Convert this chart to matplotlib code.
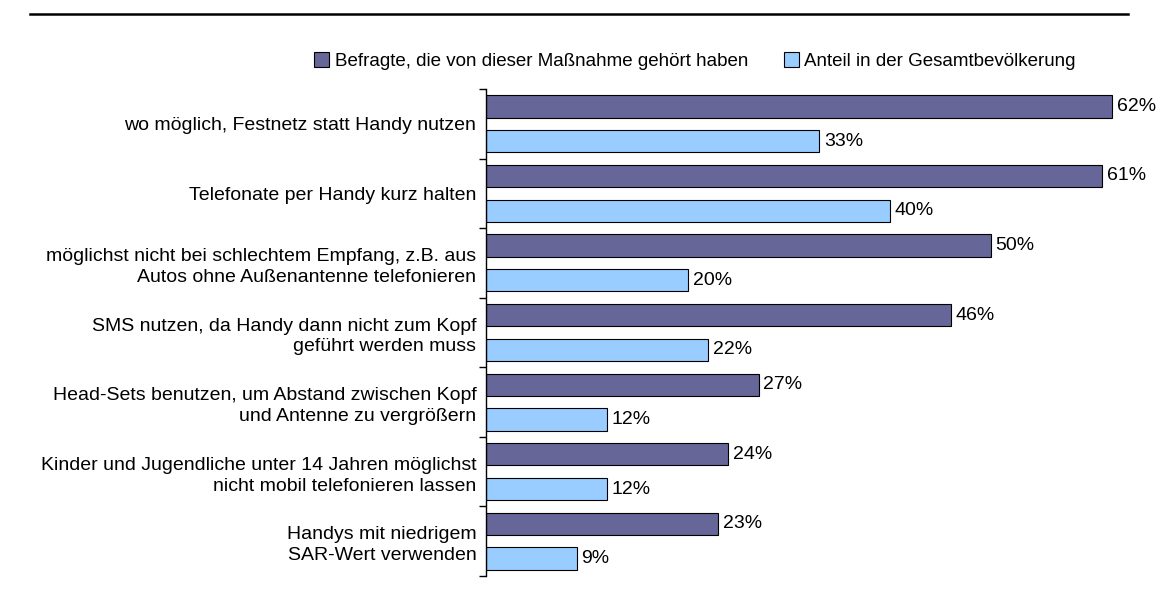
import numpy as np
import matplotlib.pyplot as plt
from matplotlib.lines import Line2D

plt.rcParams['font.family'] = ['Liberation Sans', 'DejaVu Sans']

# Kategorien und Werte (in %)
categories = ['wo möglich, Festnetz statt Handy nutzen',
              'Telefonate per Handy kurz halten',
              'möglichst nicht bei schlechtem Empfang, z.B. aus\nAutos ohne Außenantenne telefonieren',
              'SMS nutzen, da Handy dann nicht zum Kopf\ngeführt werden muss',
              'Head-Sets benutzen, um Abstand zwischen Kopf\nund Antenne zu vergrößern',
              'Kinder und Jugendliche unter 14 Jahren möglichst\nnicht mobil telefonieren lassen',
              'Handys mit niedrigem\nSAR-Wert verwenden']
heard = [62, 61, 50, 46, 27, 24, 23]
total = [33, 40, 20, 22, 12, 12, 9]
series_names = ['Befragte, die von dieser Maßnahme gehört haben',
                'Anteil in der Gesamtbevölkerung']

fig = plt.figure(figsize=(11.59, 6.16), dpi=100)
ax = fig.add_axes([486/1159, 1-576/616, (1140-486)/1159, (576-89)/616])

y = np.arange(len(categories))
h = 0.32
b1 = ax.barh(y - 0.25, heard, height=h, color='#666699', edgecolor='black', linewidth=0.8, label=series_names[0])
b2 = ax.barh(y + 0.25, total, height=h, color='#99CCFF', edgecolor='black', linewidth=0.8, label=series_names[1])

for bars, vals in [(b1, heard), (b2, total)]:
    for bar, v in zip(bars, vals):
        ax.text(bar.get_width() + 0.45, bar.get_y() + bar.get_height()/2, f'{v}%',
                va='center', ha='left', fontsize=14, clip_on=False)

ax.set_xlim(0, 64.75)
ax.set_ylim(len(categories) - 0.5, -0.5)

# Achse: nur linke Linie, Ticks an den Kategoriegrenzen
for s in ['top', 'right', 'bottom']:
    ax.spines[s].set_visible(False)
ax.spines['left'].set_linewidth(1.0)
ax.set_xticks([])
ax.set_yticks(np.arange(len(categories) + 1) - 0.5)
ax.set_yticklabels([])
ax.tick_params(axis='y', length=5, width=1.0, direction='out')
ax.set_yticks(y, minor=True)
ax.set_yticklabels(categories, minor=True, fontsize=14, ha='right', linespacing=1.3)
ax.tick_params(axis='y', which='minor', length=0, pad=7)

fig.legend(handles=[b1, b2], loc='center', bbox_to_anchor=(0.5997, 1-61/616), ncol=2,
           frameon=False, fontsize=13.5, handlelength=0.8, handleheight=0.9,
           handletextpad=0.3, columnspacing=1.9)

fig.add_artist(Line2D([30/1159, 1128/1159], [1-14/616, 1-14/616], color='black', linewidth=1.8))

fig.savefig('out.png', dpi=100)
